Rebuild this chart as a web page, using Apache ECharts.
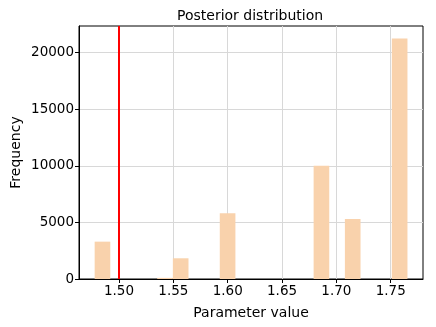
<!DOCTYPE html>
<html>
<head>
<meta charset="utf-8">
<script src="https://cdn.jsdelivr.net/npm/echarts@6/dist/echarts.min.js"></script>
<style>
    html, body {margin: 0; padding: 0; background: #fff;}
    #chart {width: 436px; height: 327px;}
</style>
</head>
<body>
<div id="chart"></div>
<script>
// histogram: 20 bins between min and max sample
const binStart = 1.4776
const binWidth = 0.01439
const binCounts = [3300, 0, 0, 0, 100, 1830, 0, 0, 5800, 0, 0, 0, 0, 0, 10000, 0, 5300, 0, 0, 21250]
const xTicks = [1.50, 1.55, 1.60, 1.65, 1.70, 1.75]
const yTicks = [0, 5000, 10000, 15000, 20000]
const trueValue = 1.50

const fontFamily = 'DejaVu Sans'

const getOption = () => {
    const barData = []
    binCounts.forEach((v, i) => {
        if (v > 0) {
            barData.push([binStart + i * binWidth, binStart + (i + 1) * binWidth, v])
        }
    })
    return {
        animation: false,
        title: {
            text: 'Posterior distribution',
            left: 172,
            top: 4,
            textStyle: {fontFamily, fontSize: 14, fontWeight: 'normal', color: '#000'}
        },
        grid: {
            left: 79, right: 13, top: 26, bottom: 48,
            containLabel: false,
            outerBoundsMode: 'none',
            show: true,
            borderColor: '#000',
            borderWidth: 1
        },
        xAxis: {
            type: 'value',
            min: 1.4632,
            max: 1.7797,
            name: 'Parameter value',
            nameLocation: 'middle',
            nameGap: 27,
            nameMoveOverlap: false,
            nameTextStyle: {fontFamily, fontSize: 14, color: '#000'},
            axisLine: {lineStyle: {color: '#000', width: 1}},
            axisTick: {show: true, length: 4, customValues: xTicks, lineStyle: {color: '#000'}},
            axisLabel: {
                customValues: xTicks,
                fontFamily, fontSize: 13.5, color: '#000', margin: 5,
                formatter: v => v.toFixed(2)
            },
            splitLine: {show: true, lineStyle: {color: '#d8d8d8', width: 1}}
        },
        yAxis: {
            type: 'value',
            min: 0,
            max: 22350,
            name: 'Frequency',
            nameLocation: 'middle',
            nameGap: 56,
            nameMoveOverlap: false,
            nameTextStyle: {fontFamily, fontSize: 14, color: '#000'},
            axisLine: {show: true, lineStyle: {color: '#000', width: 1}},
            axisTick: {show: true, length: 4, customValues: yTicks, lineStyle: {color: '#000'}},
            axisLabel: {
                customValues: yTicks,
                fontFamily, fontSize: 13.5, color: '#000', margin: 5,
                formatter: v => String(v)
            },
            splitLine: {show: true, lineStyle: {color: '#d8d8d8', width: 1}}
        },
        series: [
            {
                type: 'custom',
                data: barData,
                encode: {x: [0, 1], y: 2},
                renderItem: (params, api) => {
                    const p0 = api.coord([api.value(0), 0])
                    const p1 = api.coord([api.value(1), api.value(2)])
                    return {
                        type: 'rect',
                        shape: {x: p0[0], y: p1[1], width: p1[0] - p0[0], height: p0[1] - p1[1]},
                        style: {fill: '#f9d2ac', stroke: null}
                    }
                },
                markLine: {
                    silent: true,
                    symbol: 'none',
                    label: {show: false},
                    lineStyle: {color: '#ff0000', width: 2, type: 'solid'},
                    data: [{xAxis: trueValue}]
                }
            }
        ]
    }
}

const chart = echarts.init(document.getElementById('chart'))
chart.setOption(getOption())
</script>
</body>
</html>
